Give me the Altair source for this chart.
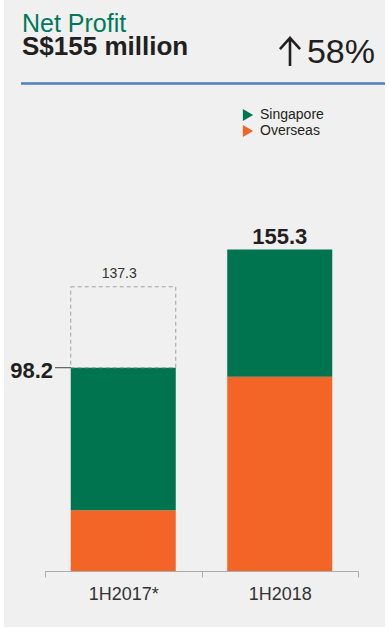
import altair as alt
import pandas as pd

# ---- data ----
periods = ["1H2017*", "1H2018"]
singapore = [68.9, 61.5]
overseas = [29.3, 93.8]
totals = [98.2, 155.3]
restated_1h2017 = 137.3
segments = ["Singapore", "Overseas"]
seg_colors = ["#00734F", "#F26526"]

FONT = "Liberation Sans"
DARK = "#231F20"

rows = []
for p, s, o in zip(periods, singapore, overseas):
    rows.append({"period": p, "segment": "Overseas", "value": o, "ord": 0})
    rows.append({"period": p, "segment": "Singapore", "value": s, "ord": 1})
df = pd.DataFrame(rows)
tot_df = pd.DataFrame({"period": periods, "total": totals})
restated_df = pd.DataFrame({"period": [periods[0]], "lo": [totals[0]], "hi": [restated_1h2017],
                            "lbl": [f"{restated_1h2017:.1f}"]})
one = pd.DataFrame({"a": [0]})

BAR_W = alt.RelativeBandSize(0.671)
xscale = alt.Scale(domain=periods, paddingInner=0, paddingOuter=0)
yscale = alt.Scale(domain=[0, 200], nice=False, zero=True)
xaxis = alt.Axis(title=None, labelAngle=0, labelFontSize=18, labelColor="#333333",
                 labelFont=FONT, domainColor="#ABABAB", tickColor="#ABABAB",
                 tickSize=6, tickBand="extent", labelPadding=8, domainWidth=1.2, grid=False,
                 zindex=1)
X = alt.X("period:N", scale=xscale, sort=periods, axis=xaxis)

bg = alt.Chart(one).mark_rect(color="#F0F0F0").encode(
    x=alt.value(-41), x2=alt.value(340), y=alt.value(-157), y2=alt.value(470))

bars = alt.Chart(df).mark_bar(width=BAR_W).encode(
    x=X,
    y=alt.Y("value:Q", stack="zero", scale=yscale, axis=None),
    color=alt.Color("segment:N", scale=alt.Scale(domain=segments, range=seg_colors),
                    legend=alt.Legend(title=None, orient="none", legendX=196, legendY=-49,
                                      symbolType="triangle-right", symbolSize=140,
                                      symbolStrokeWidth=0, labelFontSize=14, labelFont=FONT,
                                      labelColor=DARK, labelOffset=5, rowPadding=2,
                                      padding=0)),
    order=alt.Order("ord:Q"),
)

dashed = alt.Chart(restated_df).mark_bar(width=BAR_W, fillOpacity=0, stroke="#A0A0A0",
                                         strokeWidth=1, strokeDash=[4, 3]).encode(
    x=X, y=alt.Y("lo:Q", scale=yscale, axis=None), y2="hi:Q")

restated_lbl = alt.Chart(restated_df).mark_text(
    baseline="alphabetic", dy=-9, dx=-4, fontSize=14, font=FONT, color="#333333").encode(
    x=X, y=alt.Y("hi:Q", scale=yscale, axis=None), text="lbl:N")

tot_lbl = alt.Chart(tot_df[tot_df.period == periods[1]]).mark_text(
    baseline="alphabetic", dy=-6, fontSize=22, fontWeight="bold", font=FONT, color=DARK).encode(
    x=X, y=alt.Y("total:Q", scale=yscale, axis=None), text=alt.Text("total:Q", format=".1f"))

left_df = tot_df[tot_df.period == periods[0]]
leader = alt.Chart(left_df).mark_rule(color="#444444", strokeWidth=1).encode(
    y=alt.Y("total:Q", scale=yscale, axis=None), x=alt.value(10), x2=alt.value(26))
left_lbl = alt.Chart(left_df).mark_text(
    align="right", baseline="middle", dy=3, fontSize=22, fontWeight="bold", font=FONT,
    color=DARK).encode(
    y=alt.Y("total:Q", scale=yscale, axis=None), x=alt.value(8),
    text=alt.Text("total:Q", format=".1f"))

title1 = alt.Chart(one).mark_text(align="left", baseline="alphabetic", fontSize=25, font=FONT,
                                  color="#00795A").encode(
    x=alt.value(-23), y=alt.value(-125), text=alt.value("Net Profit"))
title2 = alt.Chart(one).mark_text(align="left", baseline="alphabetic", fontSize=26, font=FONT,
                                  fontWeight="bold", color=DARK).encode(
    x=alt.value(-23), y=alt.value(-102), text=alt.value("S$155 million"))
growth = alt.Chart(one).mark_text(align="right", baseline="alphabetic", fontSize=34, font=FONT,
                                  color=DARK).encode(
    x=alt.value(330), y=alt.value(-94), text=alt.value("58%"))
arrow = alt.Chart(one).mark_point(
    shape="M0,1 L0,-1 M-0.72,-0.2 L0,-1 L0.72,-0.2", filled=False, stroke=DARK,
    strokeWidth=2.6, opacity=1, size=784).encode(
    x=alt.value(245), y=alt.value(-105))
blue = alt.Chart(one).mark_rule(color="#4A7FC1", strokeWidth=2.5).encode(
    x=alt.value(-24), x2=alt.value(340), y=alt.value(-73.5))

chart = alt.layer(bg, bars, dashed, restated_lbl, tot_lbl, leader, left_lbl,
                  title1, title2, growth, arrow, blue).properties(
    width=313, height=414,
    autosize=alt.AutoSizeParams(type="none"),
    padding={"left": 45, "top": 157, "right": 32, "bottom": 58},
    background="white",
).configure_view(stroke=None)

chart.save("out.html", embed_options={"renderer": "svg", "actions": False})
